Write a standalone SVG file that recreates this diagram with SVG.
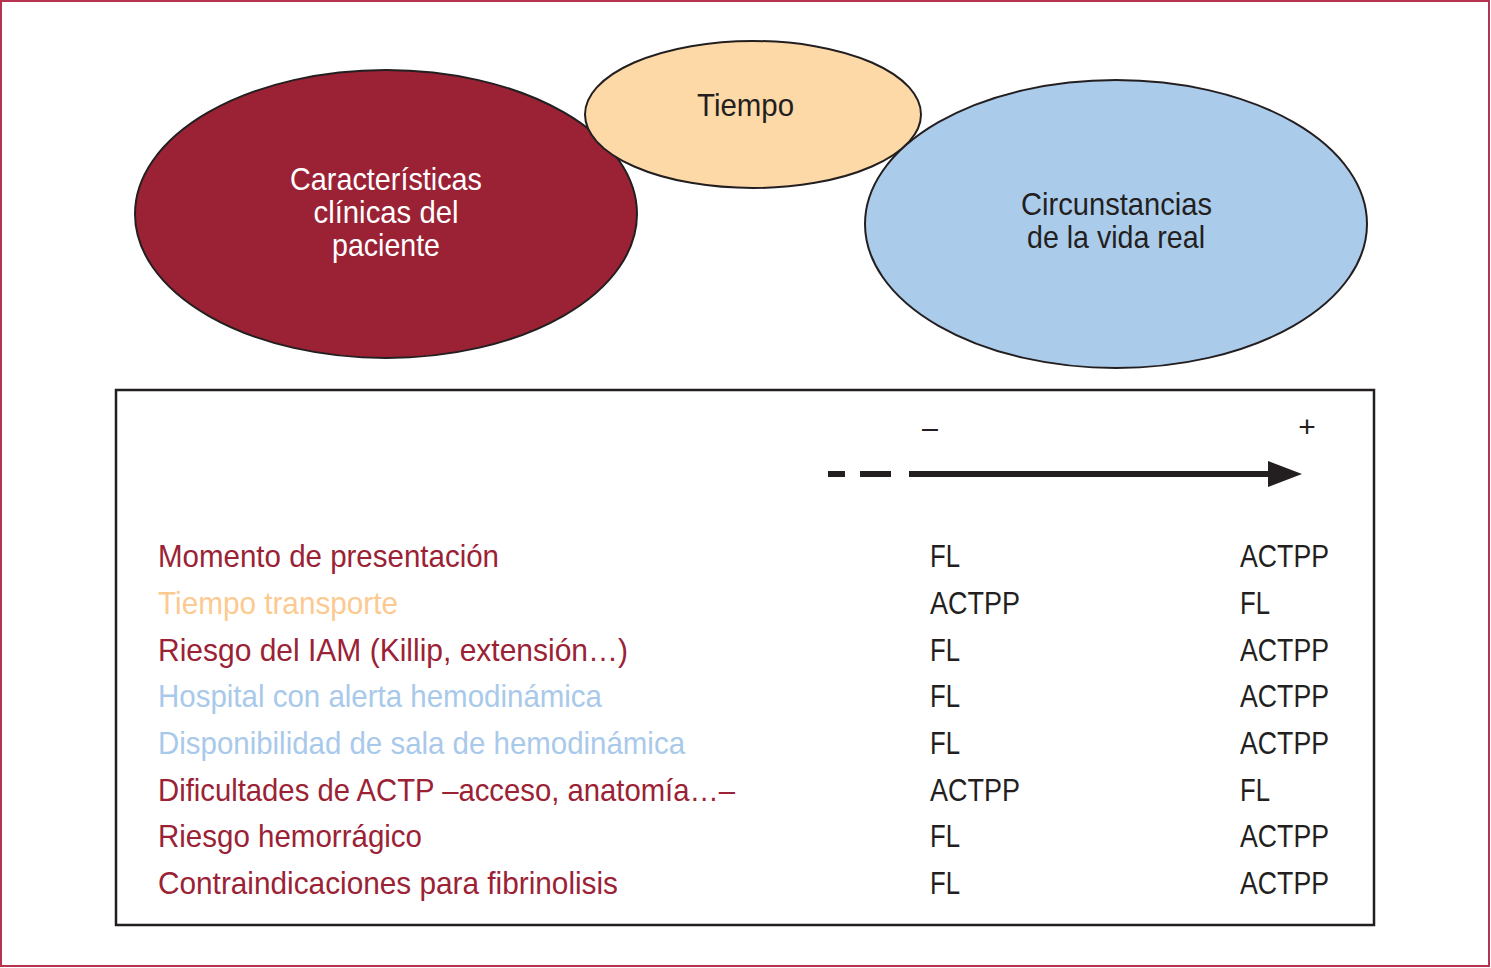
<svg xmlns="http://www.w3.org/2000/svg" width="1491" height="968" viewBox="0 0 1491 968">
<style>
text{font-family:"Liberation Sans",Arial,sans-serif;font-size:32px}
.ell{stroke:#231f20;stroke-width:2}
.c{text-anchor:middle}
.red{fill:#9b2235}
.tan{fill:#fcca90}
.blue{fill:#a9c9ea}
.blk{fill:#231f20}
</style>
<rect x="1" y="1" width="1488" height="965" fill="#ffffff" stroke="#b5334f" stroke-width="2"/>
<g id="node-clinicas">
<ellipse class="ell" cx="386" cy="214" rx="251" ry="144" fill="#9b2235"/>
<text class="c" x="386" y="190" fill="#ffffff" textLength="192" lengthAdjust="spacingAndGlyphs">Características</text>
<text class="c" x="386" y="223" fill="#ffffff" textLength="145" lengthAdjust="spacingAndGlyphs">clínicas del</text>
<text class="c" x="386" y="256" fill="#ffffff" textLength="108" lengthAdjust="spacingAndGlyphs">paciente</text>
</g>
<g id="node-tiempo">
<ellipse class="ell" cx="753" cy="114.5" rx="168" ry="73.5" fill="#fdd9a8"/>
<text class="c blk" x="745.5" y="116" textLength="97" lengthAdjust="spacingAndGlyphs">Tiempo</text>
</g>
<g id="node-circunstancias">
<ellipse class="ell" cx="1116" cy="224" rx="251" ry="144" fill="#abcbeb"/>
<text class="c blk" x="1116.5" y="215" textLength="191" lengthAdjust="spacingAndGlyphs">Circunstancias</text>
<text class="c blk" x="1116" y="248" textLength="178" lengthAdjust="spacingAndGlyphs">de la vida real</text>
</g>
<g id="table">
<rect x="116" y="390" width="1258" height="535" fill="none" stroke="#231f20" stroke-width="2.5"/>
<text class="c blk" x="930" y="438" style="font-size:30px" textLength="16" lengthAdjust="spacingAndGlyphs">–</text>
<text class="c blk" x="1307" y="437" style="font-size:30px">+</text>
<g id="rows">
<text class="red" x="158" y="567" textLength="341" lengthAdjust="spacingAndGlyphs">Momento de presentación</text>
<text class="tan" x="158" y="613.5" textLength="240" lengthAdjust="spacingAndGlyphs">Tiempo transporte</text>
<text class="red" x="158" y="660.5" textLength="470" lengthAdjust="spacingAndGlyphs">Riesgo del IAM (Killip, extensión…)</text>
<text class="blue" x="158" y="707" textLength="444" lengthAdjust="spacingAndGlyphs">Hospital con alerta hemodinámica</text>
<text class="blue" x="158" y="754" textLength="527" lengthAdjust="spacingAndGlyphs">Disponibilidad de sala de hemodinámica</text>
<text class="red" x="158" y="800.5" textLength="577" lengthAdjust="spacingAndGlyphs">Dificultades de ACTP –acceso, anatomía…–</text>
<text class="red" x="158" y="847" textLength="264" lengthAdjust="spacingAndGlyphs">Riesgo hemorrágico</text>
<text class="red" x="158" y="894" textLength="460" lengthAdjust="spacingAndGlyphs">Contraindicaciones para fibrinolisis</text>

<text class="blk" x="930" y="567" textLength="30" lengthAdjust="spacingAndGlyphs">FL</text>
<text class="blk" x="930" y="613.5" textLength="90" lengthAdjust="spacingAndGlyphs">ACTPP</text>
<text class="blk" x="930" y="660.5" textLength="30" lengthAdjust="spacingAndGlyphs">FL</text>
<text class="blk" x="930" y="707" textLength="30" lengthAdjust="spacingAndGlyphs">FL</text>
<text class="blk" x="930" y="754" textLength="30" lengthAdjust="spacingAndGlyphs">FL</text>
<text class="blk" x="930" y="800.5" textLength="90" lengthAdjust="spacingAndGlyphs">ACTPP</text>
<text class="blk" x="930" y="847" textLength="30" lengthAdjust="spacingAndGlyphs">FL</text>
<text class="blk" x="930" y="894" textLength="30" lengthAdjust="spacingAndGlyphs">FL</text>

<text class="blk" x="1240" y="567" textLength="89" lengthAdjust="spacingAndGlyphs">ACTPP</text>
<text class="blk" x="1240" y="613.5" textLength="30" lengthAdjust="spacingAndGlyphs">FL</text>
<text class="blk" x="1240" y="660.5" textLength="89" lengthAdjust="spacingAndGlyphs">ACTPP</text>
<text class="blk" x="1240" y="707" textLength="89" lengthAdjust="spacingAndGlyphs">ACTPP</text>
<text class="blk" x="1240" y="754" textLength="89" lengthAdjust="spacingAndGlyphs">ACTPP</text>
<text class="blk" x="1240" y="800.5" textLength="30" lengthAdjust="spacingAndGlyphs">FL</text>
<text class="blk" x="1240" y="847" textLength="89" lengthAdjust="spacingAndGlyphs">ACTPP</text>
<text class="blk" x="1240" y="894" textLength="89" lengthAdjust="spacingAndGlyphs">ACTPP</text>
</g>
</g>
<g id="connectors">
<line x1="828" y1="474" x2="845" y2="474" stroke="#231f20" stroke-width="6"/>
<line x1="860" y1="474" x2="891" y2="474" stroke="#231f20" stroke-width="6"/>
<line x1="909" y1="474" x2="1272" y2="474" stroke="#231f20" stroke-width="6"/>
<polygon points="1268,461 1302,474 1268,487" fill="#231f20"/>
</g>
</svg>
